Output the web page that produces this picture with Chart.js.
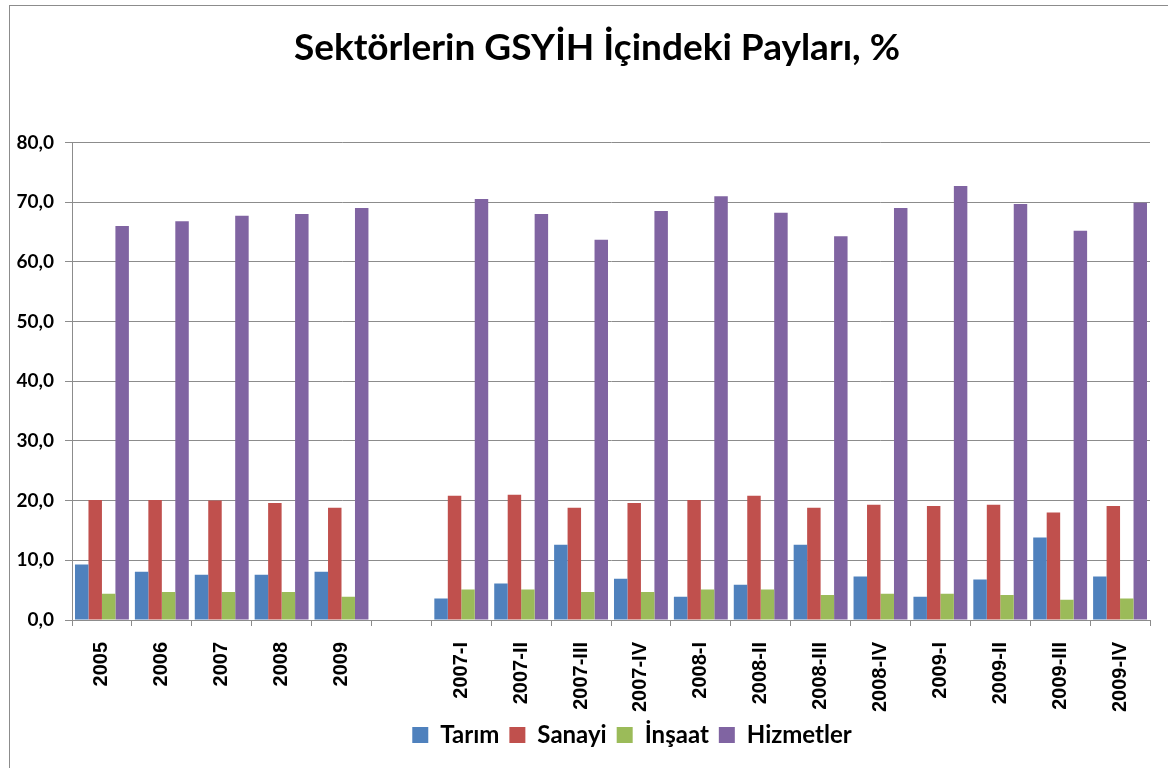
<!DOCTYPE html>
<html>
<head>
<meta charset="utf-8">
<script src="https://cdn.jsdelivr.net/npm/chart.js@4"></script>
<style>
    html, body { margin: 0; padding: 0; background: #fff; }
    #wrap { position: relative; width: 1168px; height: 768px; }
    #frame {
        position: absolute; left: 9px; top: 5px; right: -10px; bottom: -10px;
        border-left: 1px solid #8c8c8c; border-top: 1px solid #8c8c8c;
        pointer-events: none;
    }
</style>
</head>
<body>
<div id="wrap">
    <canvas id="sectorChart" width="1168" height="768"></canvas>
    <div id="frame"></div>
</div>
<script>
// Categories - yearly, one blank gap, then quarterly
const labels = ['2005', '2006', '2007', '2008', '2009', '',
    '2007-I', '2007-II', '2007-III', '2007-IV',
    '2008-I', '2008-II', '2008-III', '2008-IV',
    '2009-I', '2009-II', '2009-III', '2009-IV'];

// Shares in GDP, %
const tarim     = [9.3, 8.1, 7.6, 7.6, 8.1, null, 3.6, 6.1, 12.6, 6.9, 3.9, 5.9, 12.6, 7.3, 3.9, 6.8, 13.8, 7.3];
const sanayi    = [20.1, 20.1, 20.0, 19.6, 18.8, null, 20.8, 21.0, 18.8, 19.6, 20.1, 20.8, 18.8, 19.3, 19.1, 19.3, 18.0, 19.1];
const insaat    = [4.4, 4.7, 4.7, 4.7, 3.9, null, 5.1, 5.1, 4.7, 4.7, 5.1, 5.1, 4.2, 4.4, 4.4, 4.2, 3.4, 3.6];
const hizmetler = [66.0, 66.8, 67.7, 68.0, 69.0, null, 70.5, 68.0, 63.7, 68.5, 71.0, 68.2, 64.3, 69.0, 72.7, 69.7, 65.2, 69.9];

const yTicks = [0, 10, 20, 30, 40, 50, 60, 70, 80];

const GRID = '#8c8c8c';

function series(label, data, color) {
    return {
        label: label,
        data: data,
        backgroundColor: color,
        borderWidth: 0,
        categoryPercentage: 0.9,
        barPercentage: 1.0
    };
}

// Excel centres title and legend a bit right of the canvas centre
const shiftBoxes = {
    id: 'shiftBoxes',
    afterLayout(chart) {
        const shifts = [[chart.titleBlock, 22], [chart.legend, 57]];
        shifts.forEach(([box, dx]) => {
            if (!box) return;
            box.left += dx;
            box.right += dx;
        });
    }
};

new Chart(document.getElementById('sectorChart'), {
    type: 'bar',
    data: {
        labels: labels,
        datasets: [
            series('Tarım', tarim, '#4F81BD'),
            series('Sanayi', sanayi, '#C0504D'),
            series('İnşaat', insaat, '#9BBB59'),
            series('Hizmetler', hizmetler, '#8064A2')
        ]
    },
    options: {
        responsive: false,
        animation: false,
        layout: { padding: { left: 0, right: 18, top: 0, bottom: 11 } },
        scales: {
            x: {
                grid: {
                    display: true,
                    drawOnChartArea: false,
                    drawTicks: true,
                    tickLength: 6,
                    color: GRID
                },
                border: { display: true, color: GRID },
                ticks: {
                    autoSkip: false,
                    minRotation: 90,
                    maxRotation: 90,
                    padding: 16,
                    color: '#000',
                    font: { family: 'Liberation Sans', size: 20, weight: 'bold' }
                },
                afterFit: function(scale) {
                    scale.height = 93;
                }
            },
            y: {
                min: 0,
                max: 80,
                afterBuildTicks: function(scale) {
                    scale.ticks = yTicks.map(v => ({ value: v }));
                },
                grid: {
                    color: GRID,
                    tickLength: 7,
                    lineWidth: 1
                },
                border: { display: true, color: GRID },
                ticks: {
                    padding: 11,
                    color: '#000',
                    font: { family: 'Lato', size: 19, weight: 'bold' },
                    callback: function(value) {
                        return value.toFixed(1).replace('.', ',');
                    }
                },
                afterFit: function(scale) {
                    scale.width = 72;
                }
            }
        },
        plugins: {
            title: {
                display: true,
                text: 'Sektörlerin GSYİH İçindeki Payları, %',
                color: '#000',
                font: { family: 'Lato', size: 37, weight: 'bold' },
                padding: { top: 26, bottom: 72 }
            },
            legend: {
                position: 'bottom',
                labels: {
                    color: '#000',
                    boxWidth: 16,
                    boxHeight: 16,
                    padding: 10,
                    font: { family: 'Lato', size: 24, weight: 'bold' }
                }
            },
            tooltip: { enabled: false }
        }
    },
    plugins: [shiftBoxes]
});
</script>
</body>
</html>
